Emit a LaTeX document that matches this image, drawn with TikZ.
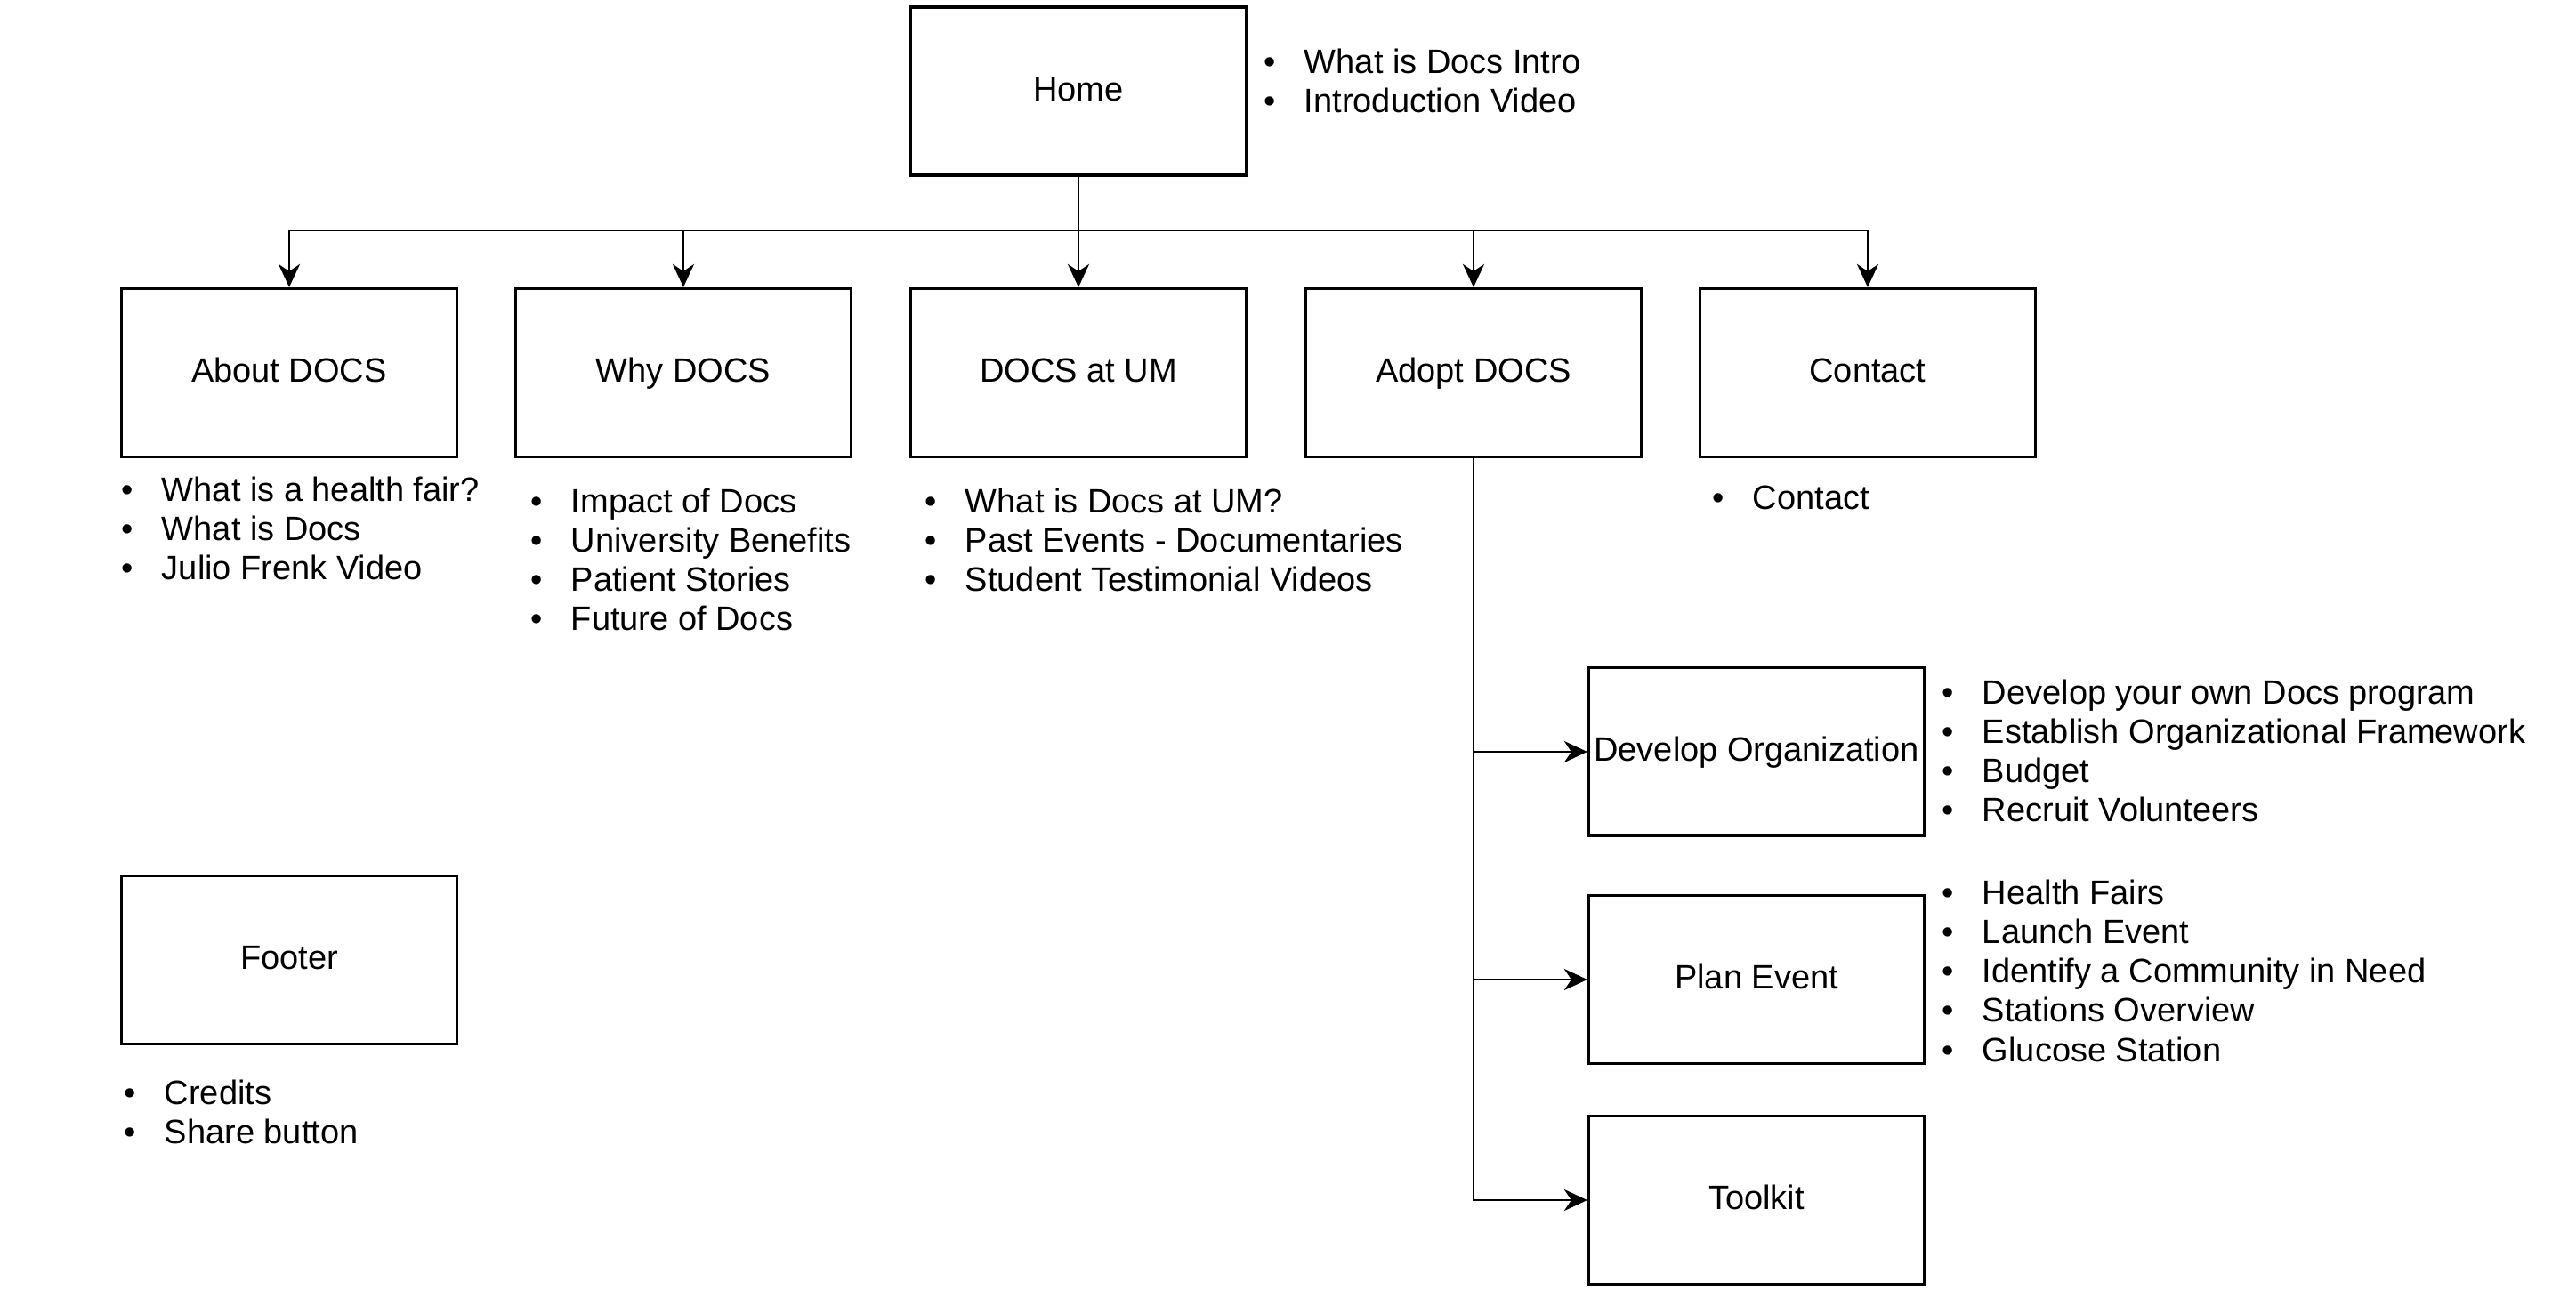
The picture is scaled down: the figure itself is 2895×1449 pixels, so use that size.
\documentclass[tikz,border=0pt]{standalone}
\usepackage{fontspec}
\setmainfont{Liberation Sans}
\usetikzlibrary{arrows.meta}
\newcommand{\bitem}[1]{\makebox[45.7pt][l]{\hspace{0pt}\textbullet}#1}
\begin{document}
\begin{tikzpicture}[x=1pt,y=-1pt,
  box/.style={draw=black, line width=3.2pt, minimum width=377pt, minimum height=189pt,
    inner sep=0pt, text height=27pt, text depth=6pt, font=\fontsize{38}{44.3}\selectfont},
  conn/.style={draw=black, line width=2.8pt, -{Stealth[length=26pt,width=24pt,inset=8pt]}},
  blist/.style={anchor=base west, inner sep=0pt, font=\fontsize{38}{44.3}\selectfont}]
\useasboundingbox (0,0) rectangle (2895,1449);

% boxes
\node[box] (home)    at (1212,102.5) {Home};
\node[box] (about)   at (325,419)  {About DOCS};
\node[box] (why)     at (768,419)  {Why DOCS};
\node[box] (docsum)  at (1212,419) {DOCS at UM};
\node[box] (adopt)   at (1656,419) {Adopt DOCS};
\node[box] (contact) at (2099,419) {Contact};
\node[box] (footer)  at (325,1079) {Footer};
\node[box] (devorg)  at (1974,845) {Develop Organization};
\node[box] (plan)    at (1974,1101) {Plan Event};
\node[box] (toolkit) at (1974,1349) {Toolkit};

% bullet lists
\node[blist] (homelist) at (1420,82) {\begin{tabular}[t]{@{}l@{}}
  \bitem{What is Docs Intro}\\ \bitem{Introduction Video}\end{tabular}};
\node[blist] (aboutlist) at (136,563) {\begin{tabular}[t]{@{}l@{}}
  \bitem{What is a health fair?}\\ \bitem{What is Docs}\\ \bitem{Julio Frenk Video}\end{tabular}};
\node[blist] (whylist) at (596,576) {\begin{tabular}[t]{@{}l@{}}
  \bitem{Impact of Docs}\\ \bitem{University Benefits}\\ \bitem{Patient Stories}\\ \bitem{Future of Docs}\end{tabular}};
\node[blist] (umlist) at (1039,576) {\begin{tabular}[t]{@{}l@{}}
  \bitem{What is Docs at UM?}\\ \bitem{Past Events - Documentaries}\\ \bitem{Student Testimonial Videos}\end{tabular}};
\node[blist] (contactlist) at (1924,572) {\begin{tabular}[t]{@{}l@{}}
  \bitem{Contact}\end{tabular}};
\node[blist] (footerlist) at (139,1241) {\begin{tabular}[t]{@{}l@{}}
  \bitem{Credits}\\ \bitem{Share button}\end{tabular}};
\node[blist] (devlist) at (2182,791) {\begin{tabular}[t]{@{}l@{}}
  \bitem{Develop your own Docs program}\\ \bitem{Establish Organizational Framework}\\ \bitem{Budget}\\ \bitem{Recruit Volunteers}\end{tabular}};
\node[blist] (planlist) at (2182,1016) {\begin{tabular}[t]{@{}l@{}}
  \bitem{Health Fairs}\\ \bitem{Launch Event}\\ \bitem{Identify a Community in Need}\\ \bitem{Stations Overview}\\ \bitem{Glucose Station}\end{tabular}};

% connectors
\coordinate (bus) at (1212,259);
\draw[conn] (home.south) -- (bus) -| (about.north);
\draw[conn] (home.south) -- (bus) -| (why.north);
\draw[conn] (home.south) -- (docsum.north);
\draw[conn] (home.south) -- (bus) -| (adopt.north);
\draw[conn] (home.south) -- (bus) -| (contact.north);
\draw[conn] (adopt.south) |- (devorg.west);
\draw[conn] (adopt.south) |- (plan.west);
\draw[conn] (adopt.south) |- (toolkit.west);
\end{tikzpicture}
\end{document}
